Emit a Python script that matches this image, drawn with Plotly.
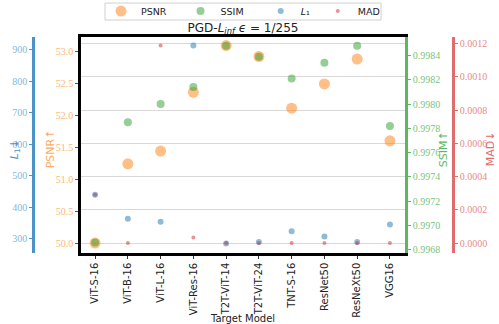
import plotly.graph_objects as go

# ── Data ────────────────────────────────────────────────────────────────
models = ["ViT-S-16", "ViT-B-16", "ViT-L-16", "ViT-Res-16", "T2T-ViT-14",
          "T2T-ViT-24", "TNT-S-16", "ResNet50", "ResNeXt50", "VGG16"]
psnr = [50.00, 51.24, 51.44, 52.36, 53.09, 52.92, 52.11, 52.49, 52.88, 51.60]
ssim = [0.99686, 0.99785, 0.99800, 0.99814, 0.99848,
        0.99839, 0.99821, 0.99834, 0.99848, 0.99782]
l1 = [440, 364, 354, 913, 285, 290, 324, 307, 290, 345]
mad = [0.000291, 0.0000, 0.001189, 0.000034, 0.0000,
       0.0000, 0.0000, 0.0000, 0.0000, 0.0000]

psnr_ticks = [50.0, 50.5, 51.0, 51.5, 52.0, 52.5, 53.0]
ssim_ticks = [0.9968, 0.9970, 0.9972, 0.9974, 0.9976, 0.9978, 0.9980, 0.9982, 0.9984]
l1_ticks = [300, 400, 500, 600, 700, 800, 900]
mad_ticks = [0.0, 0.0002, 0.0004, 0.0006, 0.0008, 0.0010, 0.0012]

# ── Styling ─────────────────────────────────────────────────────────────
W, H = 499, 324
PLOT_TOP, PLOT_BOTTOM = 37, 253.3          # pixel rows of the plot frame
SERIF = "Liberation Serif, DejaVu Serif, serif"
SANS = "DejaVu Sans, sans-serif"

C_ORANGE = "#ff7f0e"
C_GREEN = "#2ca02c"
C_BLUE = "#1f77b4"
C_RED = "#d62728"


def py(pixel_row):
    """Pixel row from top -> paper y coordinate."""
    return (PLOT_BOTTOM - pixel_row) / (PLOT_BOTTOM - PLOT_TOP)


fig = go.Figure()
fig.add_trace(go.Scatter(x=models, y=psnr, mode="markers", name="PSNR   ", yaxis="y",
                         marker=dict(size=11, color=C_ORANGE, opacity=0.5, line_width=0)))
fig.add_trace(go.Scatter(x=models, y=ssim, mode="markers", name="SSIM    ", yaxis="y2",
                         marker=dict(size=8, color=C_GREEN, opacity=0.5, line_width=0)))
fig.add_trace(go.Scatter(x=models, y=l1, mode="markers", name="<i>L</i>₁ ", yaxis="y3",
                         marker=dict(size=6, color=C_BLUE, opacity=0.5, line_width=0)))
fig.add_trace(go.Scatter(x=models, y=mad, mode="markers", name="MAD", yaxis="y4",
                         marker=dict(size=4, color=C_RED, opacity=0.5, line_width=0)))

tickfont = dict(family=SERIF, size=10)

fig.update_layout(
    width=W, height=H,
    margin=dict(l=0, r=0, t=PLOT_TOP, b=H - PLOT_BOTTOM, autoexpand=False),
    plot_bgcolor="white", paper_bgcolor="white",
    showlegend=True,
    title=dict(text="PGD-<i>L</i><sub><i>inf</i></sub> <i>ϵ</i> = 1/255",
               x=243 / W, xanchor="center", y=1 - 27.5 / H, yanchor="middle",
               font=dict(family=SANS, size=12, color="#222")),
    legend=dict(orientation="h", x=243 / W, xanchor="center", y=py(-3.5), yanchor="top",
                borderwidth=0, bgcolor="rgba(255,255,255,0)",
                font=dict(family=SANS, size=9.5, color="#222"),
                itemsizing="trace", tracegroupgap=0, valign="middle"),
    xaxis=dict(domain=[81 / W, 405 / W], range=[-0.43, 9.46],
               showline=True, linecolor="black", linewidth=2.5, mirror=True,
               ticks="outside", ticklen=3, tickcolor="#333", tickangle=-90,
               tickfont=dict(family=SANS, size=10, color="#222"),
               title=dict(text="Target Model", font=dict(family=SANS, size=10, color="#222"),
                          standoff=0),
               showgrid=False, zeroline=False, automargin=False),
    yaxis=dict(range=[49.844, 53.225], tickvals=psnr_ticks,
               ticktext=[f"{v:.1f}" for v in psnr_ticks],
               tickfont=dict(tickfont, color="#ffb877"),
               showline=True, linecolor="black", linewidth=2.5,
               ticks="outside", ticklen=3, tickcolor="#555",
               showgrid=False, zeroline=False, automargin=False),
    yaxis2=dict(overlaying="y", side="right", anchor="x",
                range=[0.996773, 0.998552], tickvals=ssim_ticks,
                ticktext=[f"{v:.4f}" for v in ssim_ticks],
                tickfont=dict(tickfont, color="#7cc47c"),
                showline=True, linecolor="#5cb85c", linewidth=2.5,
                ticks="outside", ticklen=3, tickcolor="#5cb85c",
                showgrid=False, zeroline=False, automargin=False),
    yaxis3=dict(overlaying="y", side="left", anchor="free", position=33 / W,
                range=[255, 940], tickvals=l1_ticks,
                ticktext=[str(v) for v in l1_ticks],
                tickfont=dict(tickfont, color="#86b6da"),
                showline=True, linecolor="#4b94c8", linewidth=2.5,
                ticks="outside", ticklen=3, tickcolor="#4b94c8",
                showgrid=False, zeroline=False, automargin=False),
    yaxis4=dict(overlaying="y", side="right", anchor="free", position=453 / W,
                range=[-0.00006, 0.00124], tickvals=mad_ticks,
                ticktext=[f"{v:.4f}" for v in mad_ticks],
                tickfont=dict(tickfont, color="#e88a8a"),
                showline=True, linecolor="#e06c6c", linewidth=2.5,
                ticks="outside", ticklen=3, tickcolor="#e06c6c",
                showgrid=True, gridcolor="#d9d9d9", gridwidth=1.2,
                zeroline=False, automargin=False),
)

# legend frame (matplotlib-style box, tighter than plotly's own)
fig.add_shape(type="rect", xref="paper", yref="paper",
              x0=105 / W, x1=381 / W, y0=py(20), y1=py(3),
              line=dict(color="#d0d0d0", width=1), fillcolor="rgba(0,0,0,0)", layer="below")

# rotated axis titles placed beside their spines
axis_titles = [
    ("<i>L</i><sub>1</sub>↓", 15, "#4b94c8"),
    ("PSNR↑", 50, "#ffab60"),
    ("SSIM↑", 443, "#5cb85c"),
    ("MAD↓", 490, "#e06c6c"),
]
for text, px, color in axis_titles:
    fig.add_annotation(text=text, x=px / W, y=0.48, xref="paper", yref="paper",
                       xanchor="center", yanchor="middle", textangle=-90,
                       showarrow=False, font=dict(family=SANS, size=11, color=color))

fig.write_html("out.html", config={"displayModeBar": False},
               post_script="document.body.style.margin='0';"
                           "document.body.style.overflow='hidden';")
